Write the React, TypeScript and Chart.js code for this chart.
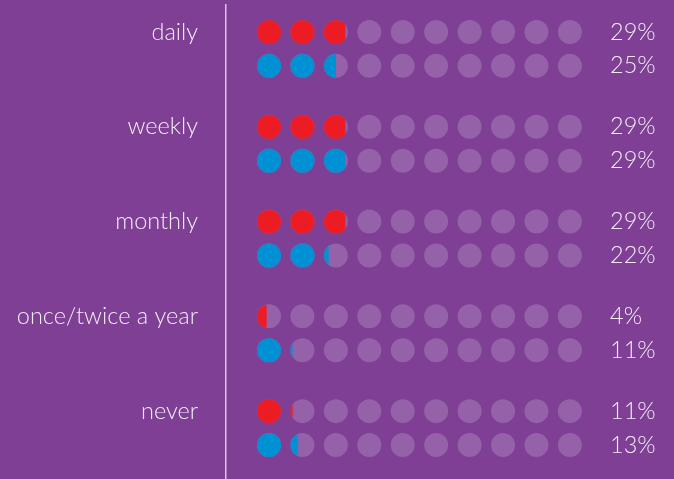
import React, { useEffect, useRef } from "react";
import { Chart, registerables } from "chart.js";

Chart.register(...registerables);

const categories = ["daily", "weekly", "monthly", "once/twice a year", "never"];
const redValues = [29, 29, 29, 4, 11];
const blueValues = [25, 29, 22, 11, 13];
const dotsPerRow = 10;
const unitPerDot = 10;

const BG = "#7E3F94";
const RED = "#ED1C24";
const BLUE = "#0091D5";
const GREY = "#9562AA";
const TEXT = "#F3ECF6";
const LINE = "#D9C6E3";
const DOT_R = 12;
const FONT = "300 23.5px Lato, 'Open Sans', sans-serif";

const GROUP_STEP = 2.8;
const redRow = (g: number) => g * GROUP_STEP;
const blueRow = (g: number) => g * GROUP_STEP + 1;

const cache: Record<string, HTMLCanvasElement> = {};
function partialDot(color: string, frac: number): HTMLCanvasElement {
  const key = color + frac.toFixed(3);
  if (cache[key]) return cache[key];
  const size = DOT_R * 2 + 2;
  const c = document.createElement("canvas");
  c.width = size;
  c.height = size;
  const g = c.getContext("2d")!;
  g.save();
  g.beginPath();
  g.rect(0, 0, 1 + frac * DOT_R * 2, size);
  g.clip();
  g.beginPath();
  g.arc(size / 2, size / 2, DOT_R, 0, Math.PI * 2);
  g.fillStyle = color;
  g.fill();
  g.restore();
  cache[key] = c;
  return c;
}

function coloredPoints(values: number[], rowFn: (g: number) => number) {
  const pts: { x: number; y: number; f: number }[] = [];
  values.forEach((v, g) => {
    const n = Math.ceil(v / unitPerDot);
    for (let i = 0; i < n; i++) {
      const f = Math.min(1, (v - i * unitPerDot) / unitPerDot);
      pts.push({ x: i, y: rowFn(g), f });
    }
  });
  return pts;
}

function greyPoints() {
  const pts: { x: number; y: number }[] = [];
  categories.forEach((_, g) => {
    for (let i = 0; i < dotsPerRow; i++) {
      pts.push({ x: i, y: redRow(g) });
      pts.push({ x: i, y: blueRow(g) });
    }
  });
  return pts;
}

const rowTicks: number[] = [];
const rowLabels: string[] = [];
categories.forEach((_, g) => {
  rowTicks.push(redRow(g));
  rowLabels.push(redValues[g] + "%");
  rowTicks.push(blueRow(g));
  rowLabels.push(blueValues[g] + "%");
});

const labelPlugin = {
  id: "rowLabels",
  afterDraw(chart: any) {
    const { ctx, chartArea } = chart;
    const y = chart.scales.y;
    ctx.save();
    ctx.font = FONT;
    ctx.fillStyle = TEXT;
    ctx.textBaseline = "middle";
    ctx.textAlign = "right";
    categories.forEach((c, g) => {
      ctx.fillText(c, chartArea.left - 28, y.getPixelForValue(redRow(g)));
    });
    ctx.textAlign = "left";
    rowTicks.forEach((v, i) => {
      ctx.fillText(rowLabels[i], chartArea.right + 10, y.getPixelForValue(v));
    });
    ctx.restore();
  },
};

export default function App() {
  const ref = useRef<HTMLCanvasElement | null>(null);
  useEffect(() => {
    if (!ref.current) return;
    const yMin = -0.798;
    const yMax = 13.205;
    const chart = new Chart(ref.current, {
      type: "scatter",
      data: {
        datasets: [
          {
            data: coloredPoints(redValues, redRow) as any,
            pointStyle: (ctx: any) => partialDot(RED, ctx.raw ? ctx.raw.f : 1),
            pointRadius: DOT_R,
            borderWidth: 0,
            clip: false as any,
          },
          {
            data: coloredPoints(blueValues, blueRow) as any,
            pointStyle: (ctx: any) => partialDot(BLUE, ctx.raw ? ctx.raw.f : 1),
            pointRadius: DOT_R,
            borderWidth: 0,
            clip: false as any,
          },
          {
            data: greyPoints(),
            pointRadius: DOT_R,
            pointHoverRadius: DOT_R,
            backgroundColor: GREY,
            borderWidth: 0,
            clip: false as any,
          },
        ],
      },
      options: {
        responsive: false,
        animation: false,
        events: [],
        layout: { autoPadding: false, padding: { top: 5, bottom: 0, left: 0, right: 0 } },
        plugins: { legend: { display: false }, tooltip: { enabled: false } },
        scales: {
          x: {
            type: "linear",
            display: false,
            min: -1.286,
            max: 9.9,
          },
          y: {
            type: "linear",
            position: "left",
            reverse: true,
            min: yMin,
            max: yMax,
            grid: { display: false, drawTicks: false },
            border: { display: true, color: LINE, width: 1.5 },
            ticks: { display: false },
            afterFit: (scale: any) => {
              scale.width = 226;
            },
          },
          y2: {
            type: "linear",
            position: "right",
            reverse: true,
            min: yMin,
            max: yMax,
            grid: { display: false, drawTicks: false },
            border: { display: false },
            ticks: { display: false },
            afterFit: (scale: any) => {
              scale.width = 74;
            },
          },
        },
      },
      plugins: [labelPlugin],
    });
    return () => chart.destroy();
  }, []);
  return (
    <div
      style={{
        position: "fixed",
        left: 0,
        top: 0,
        width: 674,
        height: 479,
        background: BG,
      }}
    >
      <canvas ref={ref} width={674} height={479} style={{ display: "block" }} />
    </div>
  );
}
